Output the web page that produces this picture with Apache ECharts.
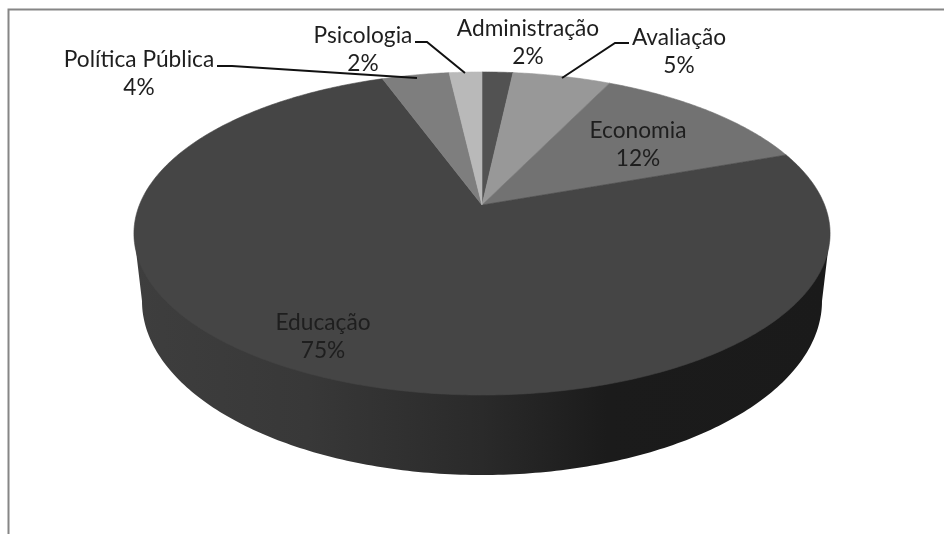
<!DOCTYPE html>
<html>
<head>
<meta charset="utf-8">
<style>html,body{margin:0;padding:0;background:#fff}#c{width:944px;height:534px}</style>
<script src="https://cdn.jsdelivr.net/npm/echarts@6/dist/echarts.min.js"></script>
</head>
<body>
<div id="c"></div>
<script>
// Data, clockwise from 12 o'clock
const categories = ['Administração', 'Avaliação', 'Economia', 'Educação', 'Política Pública', 'Psicologia'];
const shares = [1.7, 5.4, 12.4, 75.0, 3.7, 1.8];

// Styles
const sliceColors = ['#525252', '#989898', '#727272', '#454545', '#7e7e7e', '#b9b9b9'];
const textColor = '#1e1e1e';
const fontFamily = 'Lato, Carlito, "Open Sans", sans-serif';

// Perspective disc geometry
const disc = {cx: 482, cy: 205, a: 342.6, b: 156.5, k: -0.1765};
const base = {cx: 482, cy: 301, rx: 340, ry: 174};

// Label layout, by category index
const labelAt = [[528, 28], [679, 37], [638, 130], [323, 322], [139, 59], [363, 35]];
const leaders = {
  1: [[629, 43], [615, 43], [562, 78]],
  4: [[217, 66], [232, 66], [417, 78]],
  5: [[415, 42], [427, 42], [465, 73]]
};

function project(t) {
  const u = Math.sin(t), v = -Math.cos(t), w = 1 + disc.k * v;
  return [disc.cx + disc.a * u / w, disc.cy + disc.b * v / w];
}
const total = shares.reduce((s, v) => s + v, 0);

function renderSlice(params, api) {
  const i = params.dataIndex;
  const before = shares.slice(0, i).reduce((s, v) => s + v, 0);
  const t0 = before / total * 2 * Math.PI;
  const t1 = (before + api.value(0)) / total * 2 * Math.PI;
  const pts = [[disc.cx, disc.cy]];
  const n = Math.max(4, Math.ceil((t1 - t0) / 0.01));
  for (let j = 0; j <= n; j++) pts.push(project(t0 + (t1 - t0) * j / n));
  const children = [{
    type: 'polygon', shape: {points: pts},
    style: {fill: sliceColors[i], stroke: sliceColors[i], lineWidth: 0.6}
  }];
  if (leaders[i]) children.push({
    type: 'polyline', z2: 5, shape: {points: leaders[i]},
    style: {fill: null, stroke: '#111', lineWidth: 2}
  });
  children.push({
    type: 'text', z2: 10, x: labelAt[i][0], y: labelAt[i][1],
    style: {
      text: categories[i] + '\n' + Math.round(api.value(0)) + '%',
      fill: textColor, font: '22.7px ' + fontFamily,
      align: 'center', verticalAlign: 'top', lineHeight: 28.5,
      padding: [-14, 0, 0, 0]
    }
  });
  return {type: 'group', children};
}

function renderSide() {
  // Outer wall of the disc: silhouette from the top rim's extremes around the base ellipse
  const pts = [];
  const left = project(-Math.asin(0.1765) - Math.PI / 2 + 0), right = [2 * disc.cx - left[0], left[1]];
  pts.push(right);
  for (let j = 0; j <= 200; j++) {
    const a = Math.PI * j / 200;
    pts.push([base.cx + base.rx * Math.cos(a), base.cy + base.ry * Math.sin(a)]);
  }
  pts.push(left);
  return {
    type: 'polygon', shape: {points: pts},
    style: {
      fill: {
        type: 'linear', x: 0, y: 0, x2: 1, y2: 0,
        colorStops: [
          {offset: 0, color: '#3e3e3e'}, {offset: 0.25, color: '#383838'},
          {offset: 0.5, color: '#2a2a2a'}, {offset: 0.68, color: '#1b1b1b'},
          {offset: 1, color: '#1a1a1a'}
        ]
      }
    }
  };
}

const chart = echarts.init(document.getElementById('c'), null, {renderer: 'canvas'});
chart.setOption({
  animation: false,
  backgroundColor: '#fff',
  graphic: [{
    type: 'polyline', silent: true,
    shape: {points: [[8.5, 534], [8.5, 9.5], [944, 9.5]]},
    style: {fill: null, stroke: '#868686', lineWidth: 2}
  }],
  series: [
    {type: 'custom', name: 'Parede', coordinateSystem: 'none', silent: true, z: 1,
     renderItem: renderSide, data: [shares[3]]},
    {type: 'custom', name: 'Áreas', coordinateSystem: 'none', silent: true, z: 2,
     renderItem: renderSlice,
     data: categories.map((name, i) => ({name, value: [shares[i]]}))}
  ]
});
</script>
</body>
</html>
